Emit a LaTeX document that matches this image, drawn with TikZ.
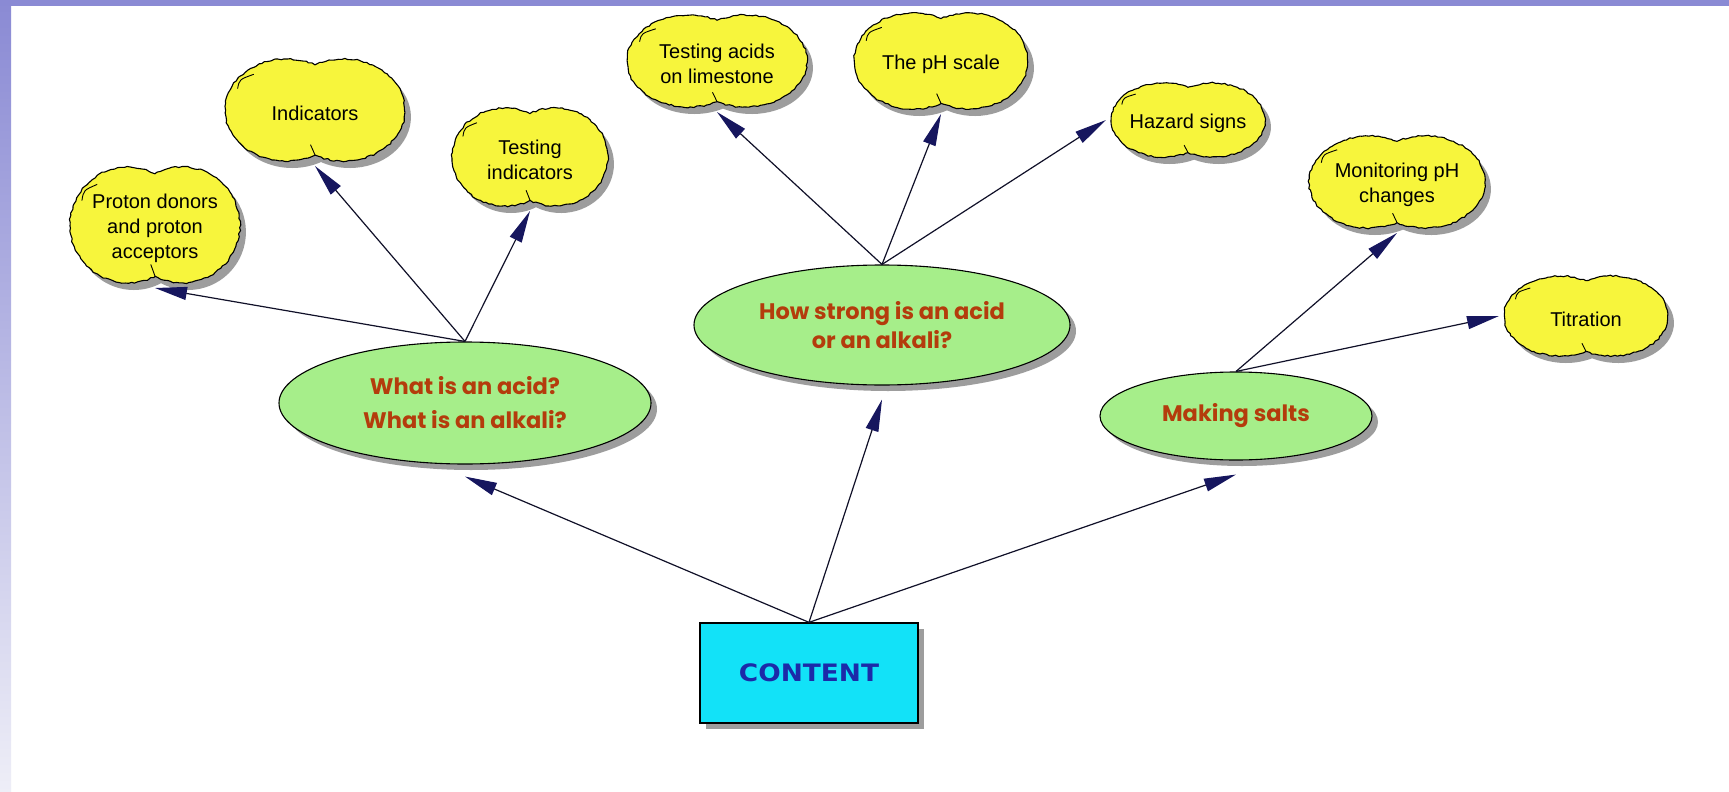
\documentclass[tikz,border=0pt]{standalone}
\usepackage{fontspec}
\setmainfont{Liberation Sans}
\newfontfamily\topicfont{Poppins}
\newfontfamily\rootfont{DejaVu Sans}[FakeStretch=1.1]
\usetikzlibrary{arrows.meta,shapes.geometric,shadows,decorations.pathmorphing}

\definecolor{bandblue}{HTML}{8A8AD4}
\definecolor{bandpale}{HTML}{EEEEF7}
\definecolor{cloudfill}{HTML}{F7F53C}
\definecolor{leafgreen}{HTML}{A6EE8A}
\definecolor{rusttext}{HTML}{B43C0C}
\definecolor{skybox}{HTML}{12E2F8}
\definecolor{inkblue}{HTML}{1C2AA8}
\definecolor{tipnavy}{HTML}{16165E}
\definecolor{linkink}{HTML}{101028}
\definecolor{shade}{HTML}{8C8C8C}

\tikzset{
  cloudrim/.style={draw=black, line width=1.1pt, fill=cloudfill, line join=round,
    decorate, decoration={random steps, segment length=3.2pt, amplitude=0.8pt}},
  cloudshade/.style={fill=shade, opacity=0.85},
  cloudfold/.style={draw=black, line width=0.9pt},
  cloudspot/.style={shape=ellipse, inner sep=0pt, outer sep=0pt},
  cloudtext/.style={font=\fontsize{20}{25}\selectfont, align=center, inner sep=0pt},
  topic/.style={shape=ellipse, draw=black, line width=1.1pt, fill=leafgreen,
    inner sep=0pt, text=rusttext, align=center,
    drop shadow={shadow xshift=6pt, shadow yshift=-6pt, fill=shade, opacity=0.85}},
  rootbox/.style={shape=rectangle, draw=black, line width=1.3pt, fill=skybox,
    minimum width=218pt, minimum height=100pt, text=inkblue,
    font=\rootfont\bfseries\fontsize{24}{28}\selectfont,
    drop shadow={shadow xshift=6pt, shadow yshift=-6pt, fill=shade, opacity=0.85}},
  link/.style={draw=linkink, line width=1.2pt,
    -{Triangle[length=32pt, width=13pt, color=tipnavy]}}
}

% two-lobed cloud: name, centre x, centre y, half width, half height, text
\newcommand\cloudbox[6]{%
  \fill[cloudshade] (#2+6,#3+7+0.883*#5)
    arc[start angle=118, end angle=-118, x radius=0.68*#4, y radius=#5]
    arc[start angle=-62, end angle=-298, x radius=0.68*#4, y radius=#5] -- cycle;
  \draw[cloudrim] (#2,#3+0.883*#5)
    arc[start angle=118, end angle=-118, x radius=0.68*#4, y radius=#5]
    arc[start angle=-62, end angle=-298, x radius=0.68*#4, y radius=#5] -- cycle;
  \draw[cloudfold] (#2,#3+0.883*#5) .. controls (#2-0.02*#4,#3+0.8*#5) .. (#2-0.05*#4,#3+0.68*#5);
  \draw[cloudfold] (#2-0.86*#4,#3-0.42*#5) .. controls (#2-0.84*#4,#3-0.6*#5) .. (#2-0.68*#4,#3-0.7*#5);
  \node[cloudspot, minimum width=2*#4+10, minimum height=2*#5+10] (#1) at (#2,#3) {};
  \node[cloudtext] (#1-label) at (#2,#3+3) {#6};
}

\begin{document}
\begin{tikzpicture}[x=1pt,y=-1pt]
\useasboundingbox (0,0) rectangle (1729,792);
\fill[white] (0,0) rectangle (1729,792);
% slide frame
\shade[top color=bandblue, bottom color=bandpale] (0,0) rectangle (11,792);
\fill[bandblue] (0,0) rectangle (1729,6);

\pgfmathsetseed{7}
\cloudbox{proton}{155}{225}{85}{58}{Proton donors\\and proton\\acceptors}
\cloudbox{indic}{315}{110}{90}{51}{Indicators}
\cloudbox{testind}{530}{157}{78}{49}{Testing\\indicators}
\cloudbox{limestone}{717}{61}{90}{46}{Testing acids\\on limestone}
\cloudbox{phscale}{941}{61}{87}{48}{The pH scale}
\cloudbox{hazard}{1188}{120}{77}{37}{Hazard signs}
\cloudbox{monitor}{1397}{182}{88}{46}{Monitoring pH\\changes}
\cloudbox{titration}{1586}{316}{82}{40}{Titration}

\node[topic, minimum width=372pt, minimum height=122pt,
      font=\topicfont\bfseries\fontsize{22.5}{34}\selectfont] (acid) at (465,403)
      {What is an acid?\\What is an alkali?};
\node[topic, minimum width=376pt, minimum height=120pt,
      font=\topicfont\bfseries\fontsize{22.5}{29}\selectfont] (strong) at (882,325)
      {How strong is an acid\\or an alkali?};
\node[topic, minimum width=272pt, minimum height=88pt,
      font=\topicfont\bfseries\fontsize{22.5}{29}\selectfont] (salts) at (1236,416)
      {Making salts};

\node[rootbox] (content) at (809,673) {CONTENT};

\draw[link] (content.north) -- ([yshift=-12pt]acid.south);
\draw[link] (content.north) -- ([yshift=-14pt]strong.south);
\draw[link] (content.north) -- ([yshift=-14pt]salts.south);

\draw[link] (acid.north) -- (proton.south);
\draw[link] (acid.north) -- (indic.south);
\draw[link] (acid.north) -- (testind.south);

\draw[link] (strong.north) -- (limestone.south);
\draw[link] (strong.north) -- (phscale.south);
\draw[link] (strong.north) -- (hazard.west);

\draw[link] (salts.north) -- (monitor.south);
\draw[link] (salts.north) -- (titration.west);
\end{tikzpicture}
\end{document}
